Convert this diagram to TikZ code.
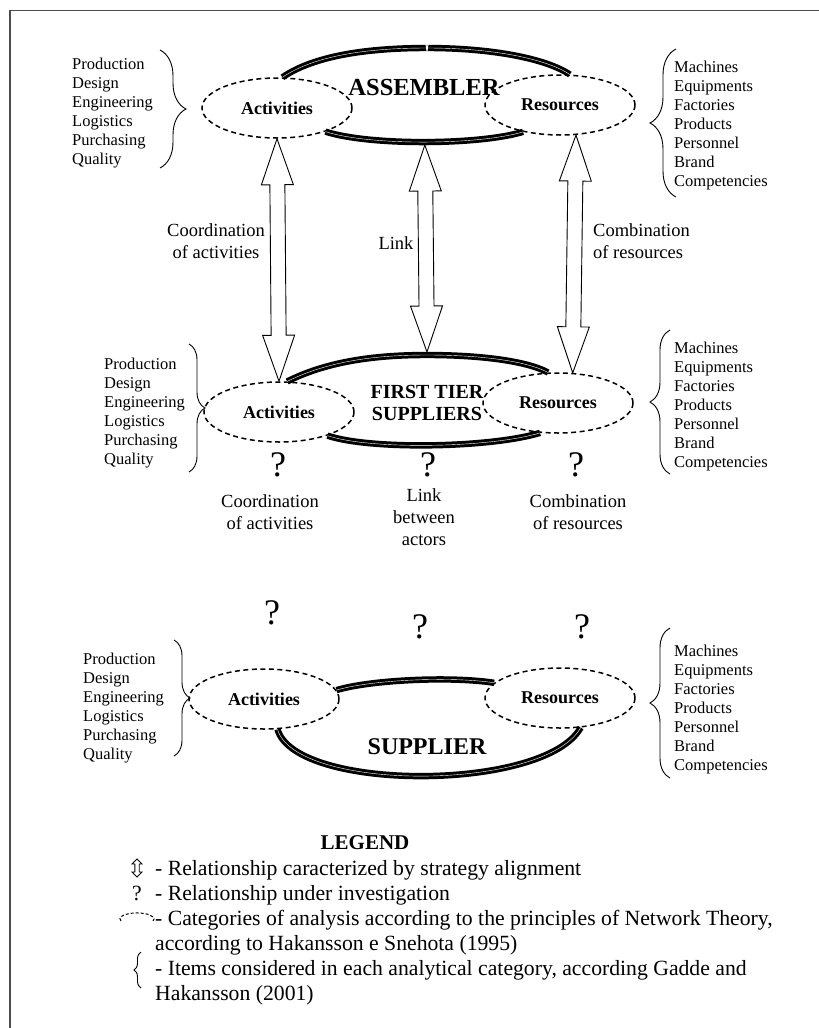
\documentclass[tikz,border=0pt]{standalone}
\usepackage{fontspec}
\setmainfont{Liberation Serif}
\usetikzlibrary{shapes.geometric,decorations.pathreplacing,calc,positioning}

\newcommand{\actlist}{Production,Design,Engineering,Logistics,Purchasing,Quality}
\newcommand{\reslist}{Machines,Equipments,Factories,Products,Personnel,Brand,Competencies}

% hollow double arrow between two named points
\newcommand{\arrhead}{46pt}
\newcommand{\arrhalf}{16pt}
\newcommand{\arrshaft}{7.5pt}
\newcommand{\hollowarrow}[2]{%
  \draw[arrowbody] (#1)
    -- ($(#1)!\arrhead!(#2)!\arrhalf!90:(#2)$)
    -- ($(#1)!\arrhead!(#2)!\arrshaft!90:(#2)$)
    -- ($(#2)!\arrhead!(#1)!\arrshaft!-90:(#1)$)
    -- ($(#2)!\arrhead!(#1)!\arrhalf!-90:(#1)$)
    -- (#2)
    -- ($(#2)!\arrhead!(#1)!\arrhalf!90:(#1)$)
    -- ($(#2)!\arrhead!(#1)!\arrshaft!90:(#1)$)
    -- ($(#1)!\arrhead!(#2)!\arrshaft!-90:(#2)$)
    -- ($(#1)!\arrhead!(#2)!\arrhalf!-90:(#2)$)
    -- cycle;}

\tikzset{
  catg/.style={ellipse,draw,line width=1.5pt,dash pattern=on 5pt off 3.5pt,
    minimum width=150pt,minimum height=60pt,inner sep=0pt,
    font=\bfseries\fontsize{18}{20}\selectfont},
  band/.style={line width=3pt,double=white,double distance=0.4pt},
  notch/.style={white,line width=1pt},
  listitem/.style={anchor=base west,inner sep=0pt,font=\fontsize{16.5}{19}\selectfont},
  lbl/.style={align=center,inner sep=0pt,font=\fontsize{18.5}{22}\selectfont},
  actor/.style={align=center,inner sep=0pt,font=\bfseries\fontsize{#1}{22}\selectfont},
  qmark/.style={inner sep=0pt,font=\fontsize{36}{36}\selectfont},
  legtext/.style={anchor=base west,inner sep=0pt,font=\fontsize{21.7}{25}\selectfont},
  brc/.style={decorate,decoration={brace,amplitude=#1},line width=0.9pt},
  arrowbody/.style={draw,fill=white,line width=0.9pt,line join=miter}
}

\begin{document}
\begin{tikzpicture}[x=1pt,y=1pt]
\useasboundingbox (0,0) rectangle (819,-1028);
\draw[black!70,line width=1.5pt] (10,-1028) -- (10,-10.5) -- (819,-10.5);

% assembler
\node[catg] (actA) at (277,-108) {Activities};
\node[catg] (resA) at (560,-105) {Resources};
\node[actor=24.5] (asm) at (424,-88) {ASSEMBLER};
\draw[band] (actA.80) .. controls (315,-55) and (370,-48) .. (427,-48) coordinate (asmpeak)
  .. controls (490,-48) and (545,-58) .. (resA.72);
\draw[notch] ($(asmpeak)+(-1,4)$) -- ($(asmpeak)+(0,-3)$) -- ($(asmpeak)+(1,4)$);
\draw[band] (actA.-26) .. controls (370,-146) and (480,-145) .. coordinate[pos=0.5] (asmlow) (resA.216);

% first tier suppliers
\node[catg] (actB) at (279,-412) {Activities};
\node[catg] (resB) at (558,-403) {Resources};
\node[actor=20] (fts) at (427,-403) {FIRST TIER\\SUPPLIERS};
\draw[band] (actB.75) .. controls (330,-360) and (380,-355) .. (427,-355) coordinate (ftspeak)
  .. controls (475,-355) and (525,-360) .. (resB.108);
\draw[band] (actB.-26) .. controls (370,-450) and (490,-448) .. (resB.239);

% supplier
\node[catg] (actC) at (264,-699) {Activities};
\node[catg] (resC) at (560,-698) {Resources};
\node[actor=24] (sup) at (427,-747) {SUPPLIER};
\draw[band] (actC.7) .. controls (370,-680) and (450,-676) .. (resC.167);
\draw[band] (actC.-66) .. controls (295,-792) and (545,-792) .. (resC.-55);

% item lists and braces
\foreach \t [count=\i] in \actlist {
  \node[listitem] (ia\i) at (72,{-69-19*(\i-1)}) {\t};
  \node[listitem] (ib\i) at (104,{-369-19*(\i-1)}) {\t};
  \node[listitem] (ic\i) at (83,{-664-19*(\i-1)}) {\t};
}
\foreach \t [count=\i] in \reslist {
  \node[listitem] (ra\i) at (674,{-72-19*(\i-1)}) {\t};
  \node[listitem] (rb\i) at (674,{-353-19*(\i-1)}) {\t};
  \node[listitem] (rc\i) at (674,{-656-19*(\i-1)}) {\t};
}
\draw[brc=26pt] (160,-50) -- (160,-168);
\draw[brc=16pt] (189,-344) -- (189,-472);
\draw[brc=16pt] (174,-640) -- (174,-756);
\draw[brc=26pt] (676,-197) -- (676,-49);
\draw[brc=20pt] (670,-474) -- (670,-330);
\draw[brc=20pt] (670,-778) -- (670,-628);

% strategy alignment arrows
\coordinate (linktop) at ($(asmlow)+(0,-3)$);
\coordinate (linkbot) at ($(ftspeak)+(0,3)$);
\hollowarrow{actA.south}{actB.north}
\hollowarrow{linktop}{linkbot}
\hollowarrow{resA.-62}{resB.64}
\node[lbl] (coordA) at (216,-241) {Coordination\\of activities};
\node[lbl] (linkA) at (396,-243) {Link};
\node[lbl,align=left,anchor=west] (combA) at (593,-241) {Combination\\of resources};

% relationships under investigation
\node[qmark] (q1) at (278,-465) {?};
\node[qmark] (q2) at (428,-465) {?};
\node[qmark] (q3) at (576,-465) {?};
\node[lbl] (coordB) at (270,-512) {Coordination\\of activities};
\node[lbl] (linkB) at (424,-517) {Link\\between\\actors};
\node[lbl] (combB) at (578,-512) {Combination\\of resources};
\node[qmark] (q4) at (272,-613) {?};
\node[qmark] (q5) at (420,-627) {?};
\node[qmark] (q6) at (582,-627) {?};

% legend
\node[inner sep=0pt,font=\bfseries\fontsize{21}{21}\selectfont] (leg) at (365,-843) {LEGEND};
\node[legtext] (leg1) at (155,-875) {- Relationship caracterized by strategy alignment};
\node[legtext] (leg2) at (155,-900) {- Relationship under investigation};
\node[legtext] (leg3) at (155,-925) {- Categories of analysis according to the principles of Network Theory,};
\node[legtext] (leg3b) at (155,-950) {according to Hakansson e Snehota (1995)};
\node[legtext] (leg4) at (155,-975) {- Items considered in each analytical category, according Gadde and};
\node[legtext] (leg4b) at (155,-1000) {Hakansson (2001)};
\begin{scope}
  \renewcommand{\arrhead}{5pt}\renewcommand{\arrhalf}{5pt}\renewcommand{\arrshaft}{2.2pt}
  \coordinate (ls1) at (137,-859);
  \coordinate (ls2) at (137,-877);
  \hollowarrow{ls1}{ls2}
\end{scope}
\node[legtext,anchor=base] (lq) at (137,-900) {?};
\draw[line width=1pt,dash pattern=on 3pt off 2pt] (121,-921) arc[start angle=200,end angle=-20,x radius=17,y radius=6];
\draw[brc=7pt] (141,-988) -- (141,-952);
\end{tikzpicture}
\end{document}
